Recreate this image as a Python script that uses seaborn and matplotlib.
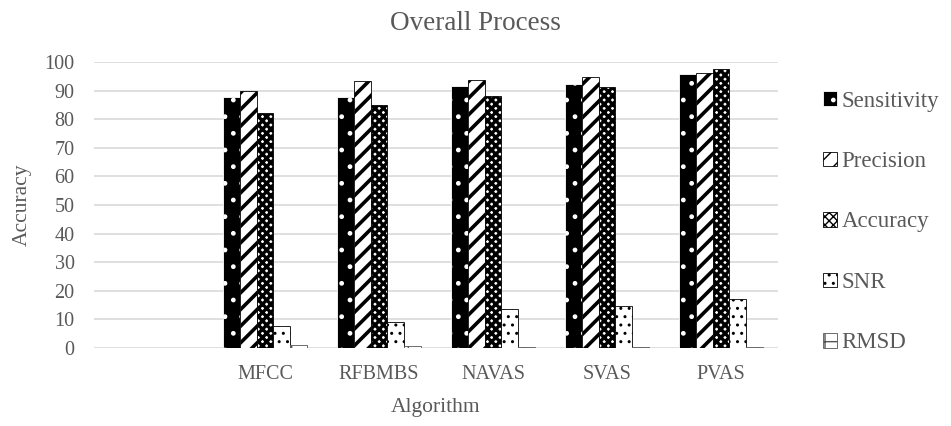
import pandas as pd
import numpy as np
import matplotlib
matplotlib.use("Agg")
import matplotlib.pyplot as plt
import seaborn as sns

# values
algorithms = ["MFCC", "RFBMBS", "NAVAS", "SVAS", "PVAS"]
metrics = ["Sensitivity", "Precision", "Accuracy", "SNR", "RMSD"]
sensitivity = [87.7, 87.9, 91.6, 92.3, 95.8]
precision = [89.8, 93.5, 93.7, 94.6, 96.0]
accuracy = [82.0, 85.0, 88.1, 91.1, 97.6]
snr = [7.8, 9.2, 13.6, 14.8, 17.0]
rmsd = [1.0, 0.8, 0.5, 0.4, 0.3]

# first slot on the axis is an empty category
order = [""] + algorithms

rows = []
for name, vals in zip(metrics, [sensitivity, precision, accuracy, snr, rmsd]):
    for alg, v in zip(algorithms, vals):
        rows.append({"Algorithm": alg, "Metric": name, "Value": v})
df = pd.DataFrame(rows)

sns.set_style("white")
plt.rcParams['font.family'] = ['Liberation Serif', 'DejaVu Serif']
grey = "#595959"

fig = plt.figure(figsize=(9.51, 4.26), dpi=100)
ax = fig.add_axes([94 / 951, 1 - 348 / 426, (778 - 94) / 951, (348 - 62) / 426])

sns.barplot(data=df, x="Algorithm", y="Value", hue="Metric", order=order,
            hue_order=metrics, width=0.74, ax=ax, legend=False)

styles = {
    "Sensitivity": dict(fc="black", ec="white", hatch=".", hlw=1.0),
    "Precision": dict(fc="white", ec="black", hatch="//", hlw=2.6),
    "Accuracy": dict(fc="white", ec="black", hatch="xxxx", hlw=2.4),
    "SNR": dict(fc="white", ec="black", hatch="..", hlw=1.0),
    "RMSD": dict(fc="white", ec="#555555", hatch="+", hlw=1.0),
}
for cont, name in zip(ax.containers, metrics):
    st = styles[name]
    for p in cont:
        p.set_facecolor(st["fc"])
        p.set_edgecolor(st["ec"])
        p.set_hatch(st["hatch"])
        p.set_linewidth(0.6)
        if hasattr(p, "set_hatch_linewidth"):
            p.set_hatch_linewidth(st["hlw"])

ax.set_ylim(0, 100)
ax.set_xlim(-0.5, len(order) - 0.5)
ax.set_yticks(range(0, 101, 10))
ax.yaxis.grid(True, color="#d9d9d9", lw=1.2)
ax.set_axisbelow(True)
for s in ax.spines.values():
    s.set_visible(False)
ax.tick_params(axis="both", length=0, labelsize=14.5, colors=grey)
ax.tick_params(axis="y", pad=14)
ax.tick_params(axis="x", pad=12)

ax.set_xlabel("Algorithm", fontsize=15.5, color=grey, labelpad=10)
ax.set_ylabel("Accuracy", fontsize=15.5, color=grey, labelpad=9)
fig.suptitle("Overall Process", x=0.5, y=0.975, fontsize=19.5, color=grey)

handles = [cont.patches[0] for cont in ax.containers]
leg = fig.legend(handles, metrics, loc="center left",
                 bbox_to_anchor=(814 / 951, 1 - 222 / 426), frameon=False,
                 fontsize=16.5, handlelength=0.6, handleheight=0.6,
                 handletextpad=0.2, labelspacing=1.72, borderaxespad=0)
for t in leg.get_texts():
    t.set_color(grey)

fig.savefig("out.png", dpi=100)
